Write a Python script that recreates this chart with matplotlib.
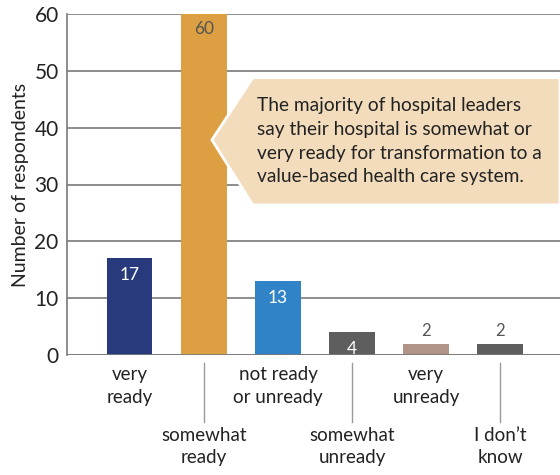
import matplotlib
matplotlib.use("Agg")
import matplotlib.pyplot as plt
import matplotlib.transforms as mtransforms
from matplotlib.patches import Polygon

plt.rcParams["font.family"] = ["Lato", "DejaVu Sans"]

# data
categories = ["very\nready", "somewhat\nready", "not ready\nor unready",
              "somewhat\nunready", "very\nunready", "I don\u2019t\nknow"]
counts = [17, 60, 13, 4, 2, 2]
colors = ["#283a7c", "#dca042", "#3083c6", "#5e5e5e", "#b09488", "#5e5e5e"]
note = ("The majority of hospital leaders\n"
        "say their hospital is somewhat or\n"
        "very ready for transformation to a\n"
        "value-based health care system.")

fig = plt.figure(figsize=(5.6, 4.75), dpi=100)
ax = fig.add_axes([67 / 560, 120 / 475, 493 / 560, 341 / 475])

x = list(range(len(counts)))
ax.bar(x, counts, width=0.61, color=colors, zorder=3)

ax.set_xlim(-0.85, 5.81)
ax.set_ylim(0, 60)
ax.set_yticks(range(0, 61, 10))
ax.tick_params(axis="y", length=0, labelsize=15, pad=6, labelcolor="#222222")
ax.set_xticks([])
ax.grid(axis="y", color="#7a7a7a", linewidth=1.2, zorder=0)
for side in ["top", "right", "bottom"]:
    ax.spines[side].set_visible(False)
ax.spines["left"].set_color("#7a7a7a")
ax.spines["left"].set_linewidth(1.2)
ax.axhline(0, color="#7a7a7a", linewidth=2, zorder=4)
ax.set_ylabel("Number of respondents", fontsize=14, color="#222222", labelpad=4)

# value labels
for xi, v in zip(x, counts):
    if v >= 50:
        ax.annotate(str(v), (xi, v), xytext=(0, -11), textcoords="offset points",
                    ha="center", va="center", fontsize=12.5, color="#555555", zorder=5)
    elif v >= 4:
        ax.annotate(str(v), (xi, v), xytext=(0, -12), textcoords="offset points",
                    ha="center", va="center", fontsize=12.5, color="white", zorder=5)
    else:
        ax.annotate(str(v), (xi, v), xytext=(0, 9), textcoords="offset points",
                    ha="center", va="center", fontsize=12, color="#555555", zorder=5)

# category labels on two staggered rows
trans = mtransforms.blended_transform_factory(ax.transData, ax.transAxes)
for xi, lab in zip(x, categories):
    if xi % 2 == 0:
        ax.annotate(lab, (xi, 0), xytext=(0, -22.5), textcoords="offset points",
                    ha="center", va="center", fontsize=13.5, color="#222222",
                    linespacing=1.4, annotation_clip=False)
    else:
        ax.annotate(lab, (xi, 0), xytext=(0, -66), textcoords="offset points",
                    ha="center", va="center", fontsize=13.5, color="#222222",
                    linespacing=1.4, annotation_clip=False)
        ax.plot([xi, xi], [-0.024, -0.196], transform=trans, color="#9a9a9a",
                linewidth=1, clip_on=False)

# callout
callout = Polygon([(1.108, 37.85), (1.66, 48.8), (5.81, 48.8), (5.81, 26.4), (1.66, 26.4)],
                  closed=True, facecolor="#f2dcbc", edgecolor="white", linewidth=2,
                  zorder=6, clip_on=False)
ax.add_patch(callout)
ax.text(1.72, 37.6, note, ha="left", va="center", fontsize=13.8, color="#222222",
        linespacing=1.48, zorder=7)

fig.savefig("out.png", dpi=100)
